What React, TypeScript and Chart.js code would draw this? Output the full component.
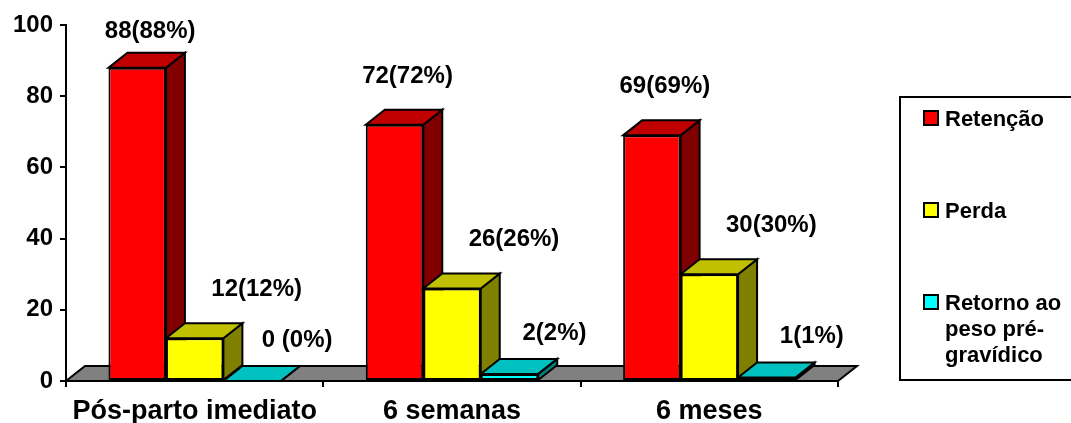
import React, { useEffect, useRef } from 'react';
import { Chart, registerables } from 'chart.js';

Chart.register(...registerables);

// Categories and series
const categories = ['Pós-parto imediato', '6 semanas', '6 meses'];
const seriesNames = ['Retenção', 'Perda', 'Retorno ao peso pré-gravídico'];
const retencao = [88, 72, 69];
const perda = [12, 26, 30];
const retorno = [0, 2, 1];
const retencaoLabels = ['88(88%)', '72(72%)', '69(69%)'];
const perdaLabels = ['12(12%)', '26(26%)', '30(30%)'];
const retornoLabels = ['0 (0%)', '2(2%)', '1(1%)'];
const yTickValues = [0, 20, 40, 60, 80, 100];

// Face colours: front, top, side
const frontColors = ['#FF0000', '#FFFF00', '#00FFFF'];
const topColors = ['#C00000', '#C0C000', '#00C0C0'];
const sideColors = ['#800000', '#808000', '#008080'];
const floorColor = '#808080';

const FONT = "'Liberation Sans', Arial, Helvetica, sans-serif";
const DEPTH_X = 19;
const DEPTH_Y = 15;

// Per-series placement of the value labels relative to the bar's front top
const labelShiftX = [13, 62, 45];
const labelRise = [42, 42, 34];

function poly(ctx: CanvasRenderingContext2D, pts: number[][], fill: string) {
  ctx.beginPath();
  ctx.moveTo(pts[0][0], pts[0][1]);
  for (let i = 1; i < pts.length; i++) ctx.lineTo(pts[i][0], pts[i][1]);
  ctx.closePath();
  ctx.fillStyle = fill;
  ctx.fill();
  ctx.stroke();
}

const bars3d = {
  id: 'bars3d',
  beforeDatasetsDraw(chart: any) {
    const { ctx, chartArea } = chart;
    const zero = chart.scales.y.getPixelForValue(0);
    ctx.save();
    ctx.lineWidth = 2;
    ctx.strokeStyle = '#000';
    ctx.lineJoin = 'miter';
    // floor of the plot
    poly(
      ctx,
      [
        [chartArea.left, zero],
        [chartArea.right, zero],
        [chartArea.right + DEPTH_X, zero - DEPTH_Y],
        [chartArea.left + DEPTH_X, zero - DEPTH_Y],
      ],
      floorColor
    );
    // side and top faces, left to right within each category
    for (let i = 0; i < categories.length; i++) {
      chart.data.datasets.forEach((_: any, d: number) => {
        const el = chart.getDatasetMeta(d).data[i];
        const { x, y, base, width } = el.getProps(['x', 'y', 'base', 'width'], true);
        const l = x - width / 2;
        const r = x + width / 2;
        poly(
          ctx,
          [
            [r, y],
            [r + DEPTH_X, y - DEPTH_Y],
            [r + DEPTH_X, base - DEPTH_Y],
            [r, base],
          ],
          sideColors[d]
        );
        poly(
          ctx,
          [
            [l, y],
            [r, y],
            [r + DEPTH_X, y - DEPTH_Y],
            [l + DEPTH_X, y - DEPTH_Y],
          ],
          topColors[d]
        );
      });
    }
    ctx.restore();
  },
  afterDatasetsDraw(chart: any) {
    const { ctx, chartArea } = chart;
    const texts = [retencaoLabels, perdaLabels, retornoLabels];
    ctx.save();
    ctx.font = `bold 24px ${FONT}`;
    ctx.fillStyle = '#000';
    ctx.textAlign = 'center';
    ctx.textBaseline = 'alphabetic';
    chart.data.datasets.forEach((_: any, d: number) => {
      chart.getDatasetMeta(d).data.forEach((el: any, i: number) => {
        const { x, y } = el.getProps(['x', 'y'], true);
        const baseline = Math.max(y - labelRise[d], chartArea.top + 13);
        ctx.fillText(texts[d][i], x + labelShiftX[d], baseline);
      });
    });
    ctx.restore();
  },
};

function wrapWords(ctx: CanvasRenderingContext2D, text: string, maxWidth: number) {
  const tokens = text.match(/[^\s-]+-?|\s+/g) || [];
  const lines: string[] = [];
  let line = '';
  for (const tok of tokens) {
    const trial = line + tok;
    if (line.trim() && ctx.measureText(trial.trimEnd()).width > maxWidth) {
      lines.push(line.trimEnd());
      line = tok.trimStart();
    } else {
      line = trial;
    }
  }
  if (line.trim()) lines.push(line.trimEnd());
  return lines;
}

const boxLegend = {
  id: 'boxLegend',
  afterDraw(chart: any) {
    const { ctx } = chart;
    const boxL = 900;
    const boxT = 97;
    const boxR = 1076;
    const boxB = 380;
    ctx.save();
    ctx.lineWidth = 2;
    ctx.strokeStyle = '#000';
    ctx.fillStyle = '#fff';
    ctx.fillRect(boxL, boxT, boxR - boxL, boxB - boxT);
    ctx.strokeRect(boxL, boxT, boxR - boxL, boxB - boxT);
    ctx.font = `bold 22px ${FONT}`;
    ctx.textAlign = 'left';
    ctx.textBaseline = 'alphabetic';
    seriesNames.forEach((name, d) => {
      const baseline = 126 + d * 92;
      ctx.fillStyle = frontColors[d];
      ctx.fillRect(924, baseline - 15, 14, 14);
      ctx.lineWidth = 2;
      ctx.strokeRect(924, baseline - 15, 14, 14);
      ctx.fillStyle = '#000';
      wrapWords(ctx, name, 120).forEach((ln, k) => {
        ctx.fillText(ln, 945, baseline + k * 26);
      });
    });
    ctx.restore();
  },
};

export default function App() {
  const canvasRef = useRef<HTMLCanvasElement | null>(null);

  useEffect(() => {
    if (!canvasRef.current) return;
    const values = [retencao, perda, retorno];
    const chart = new Chart(canvasRef.current, {
      type: 'bar',
      data: {
        labels: categories,
        datasets: seriesNames.map((name, d) => ({
          label: name,
          data: values[d],
          backgroundColor: frontColors[d],
          borderColor: '#000',
          borderWidth: 2,
          borderSkipped: false,
          categoryPercentage: 0.67,
          barPercentage: 1,
        })),
      },
      options: {
        responsive: false,
        animation: false,
        devicePixelRatio: 1,
        layout: { padding: { top: 25, right: 233, left: 0, bottom: 0 } },
        plugins: {
          legend: { display: false },
          tooltip: { enabled: false },
        },
        scales: {
          x: {
            offset: true,
            grid: {
              offset: true,
              drawOnChartArea: false,
              drawTicks: true,
              tickLength: 6,
              color: '#000',
              lineWidth: 2,
            },
            border: { display: true, color: '#000', width: 2 },
            ticks: {
              color: '#000',
              font: { family: FONT, size: 27, weight: 'bold' },
              padding: 8,
              maxRotation: 0,
              autoSkip: false,
            },
            afterFit: (axis: any) => {
              axis.height = 42;
            },
          },
          y: {
            min: 0,
            max: 100,
            afterBuildTicks: (axis: any) => {
              axis.ticks = yTickValues.map((v) => ({ value: v }));
            },
            grid: {
              drawOnChartArea: false,
              drawTicks: true,
              tickLength: 6,
              color: '#000',
              lineWidth: 2,
            },
            border: { display: true, color: '#000', width: 2 },
            ticks: {
              color: '#000',
              font: { family: FONT, size: 24, weight: 'bold' },
              padding: 7,
            },
            afterFit: (axis: any) => {
              axis.width = 66;
            },
          },
        },
      },
      plugins: [bars3d, boxLegend],
    } as any);
    return () => chart.destroy();
  }, []);

  return (
    <div style={{ position: 'fixed', left: 0, top: 0, width: 1071, height: 423, background: '#fff' }}>
      <canvas ref={canvasRef} width={1071} height={423} style={{ display: 'block' }} />
    </div>
  );
}
